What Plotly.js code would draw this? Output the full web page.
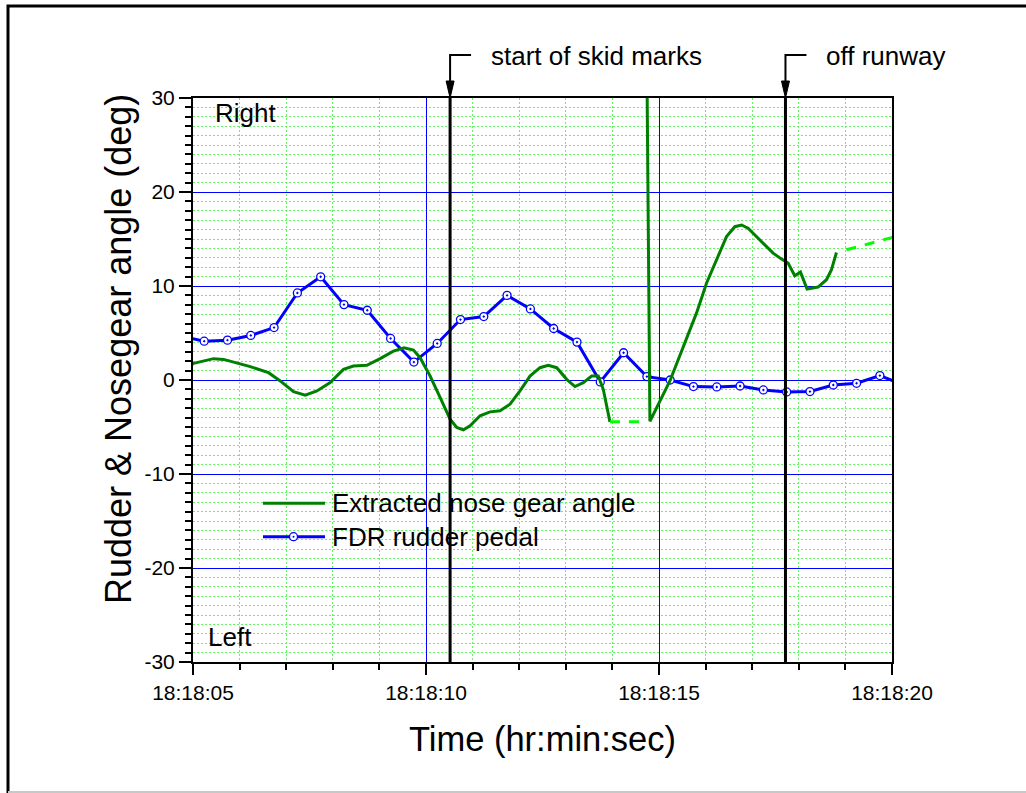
<!DOCTYPE html>
<html>
<head>
<meta charset="utf-8">
<script src="https://cdn.plot.ly/plotly-3.0.1.min.js"></script>
<style>html,body{margin:0;padding:0;background:#fff;}#chart{width:1026px;height:793px;}</style>
</head>
<body>
<div id="chart"></div>
<script>
// Time in seconds after 18:18:00
const xTickVals = [5, 10, 15, 20];
const xTickLabels = ['18:18:05', '18:18:10', '18:18:15', '18:18:20'];
const yTickVals = [-30, -20, -10, 0, 10, 20, 30];
const yTickLabels = ['-30', '-20', '-10', '0', '10', '20', '30'];

// FDR rudder pedal (deg)
const fdrTime = [4.74, 5.24, 5.74, 6.24, 6.74, 7.24, 7.74, 8.24, 8.74, 9.24, 9.74, 10.24, 10.74, 11.24, 11.74, 12.24,
  12.74, 13.24, 13.74, 14.24, 14.74, 15.24, 15.74, 16.24, 16.74, 17.24, 17.74, 18.24, 18.74, 19.24, 19.74, 20.24];
const fdrRudder = [4.67, 4.13, 4.24, 4.74, 5.58, 9.26, 10.98, 8.02, 7.42, 4.42, 1.91, 3.89, 6.43, 6.75, 9.0, 7.56,
  5.48, 4.03, -0.21, 2.9, 0.36, 0.0, -0.7, -0.74, -0.64, -1.06, -1.27, -1.23, -0.53, -0.35, 0.47, -0.53];

// Extracted nose gear angle (deg), solid portions
const noseTime = [4.95, 5.013, 5.442, 5.656, 6.229, 6.621, 6.872, 7.157, 7.408, 7.659, 7.944, 8.229, 8.443, 8.731,
  9.016, 9.301, 9.530, 9.730, 9.873, 10.088, 10.302, 10.517, 10.660, 10.802, 10.946, 11.160, 11.374, 11.589, 11.803,
  12.017, 12.232, 12.446, 12.624, 12.805, 13.019, 13.197, 13.375, 13.555, 13.697, 13.804, 13.947, null,
  14.721, 14.805, 15.234, 15.519, 15.806, 16.021, 16.235, 16.449, 16.627, 16.771, 16.912, 17.093, 17.234, 17.449,
  17.629, 17.770, 17.914, 18.036, 18.178, 18.413, 18.594, 18.701, 18.808];
const noseAngle = [1.6, 1.77, 2.27, 2.19, 1.42, 0.78, -0.1, -1.23, -1.62, -1.16, -0.28, 1.13, 1.48, 1.56,
  2.27, 3.07, 3.43, 3.18, 2.37, 0.42, -1.85, -4.16, -5.04, -5.3, -4.87, -3.81, -3.39, -3.28, -2.57,
  -1.16, 0.42, 1.31, 1.56, 1.31, 0.07, -0.7, -0.28, 0.42, 0.42, -0.99, -4.45, null,
  45, -4.4, -0.1, 3.6, 7.14, 10.32, 12.79, 15.25, 16.31, 16.49, 16.14, 15.25, 14.62, 13.5,
  12.86, 12.44, 11.09, 11.48, 9.68, 9.89, 10.67, 11.73, 13.56];

// Extracted nose gear angle, estimated (dashed) portions
const noseEstTime = [13.947, 14.59, null, 19.022, 20.1];
const noseEstAngle = [-4.45, -4.45, null, 13.85, 15.3];

// Events
const eventTimes = [10.517, 17.714];
const eventLabels = ['start of skid marks', 'off runway'];

const seriesNames = ['Extracted nose gear angle', 'FDR rudder pedal'];
const sideLabels = ['Right', 'Left'];
const yTitle = 'Rudder &amp; Nosegear angle (deg)';
const xTitle = 'Time (hr:min:sec)';

const FONT = 'Liberation Sans, Arial, Helvetica, sans-serif';
const GREEN = '#008000', LIME = '#00ff00', BLUE = '#0000ff';

const traces = [
  {
    x: fdrTime, y: fdrRudder, type: 'scatter', mode: 'lines+markers', name: seriesNames[1],
    line: {color: BLUE, width: 3},
    marker: {symbol: 'circle-dot', size: 8, color: '#ffffff', line: {color: BLUE, width: 1.3}},
    showlegend: false, cliponaxis: true
  },
  {
    x: noseTime, y: noseAngle, type: 'scatter', mode: 'lines', name: seriesNames[0],
    line: {color: GREEN, width: 3}, connectgaps: false, showlegend: false
  },
  {
    x: noseEstTime, y: noseEstAngle, type: 'scatter', mode: 'lines', name: seriesNames[0] + ' (est.)',
    line: {color: LIME, width: 3, dash: '10px,9px'}, connectgaps: false, showlegend: false
  }
];

// paper helpers (plot area: x 193..892, y 98..662)
const PX = px => (px - 193) / 699;
const PY = py => (662 - py) / 564;
const S_PER_PX = 15 / 699.6;

const shapes = [
  // outer frame
  {type: 'path', xref: 'paper', yref: 'paper',
   path: `M ${PX(8)},${PY(800)} L ${PX(8)},${PY(6)} L ${PX(1040)},${PY(6)}`,
   line: {color: '#000', width: 3}},
  {type: 'line', xref: 'paper', yref: 'paper', x0: PX(8), x1: PX(1040), y0: PY(792), y1: PY(792),
   line: {color: '#c8c8c8', width: 2}},
  // legend samples
  {type: 'line', xref: 'paper', yref: 'paper', x0: PX(263), x1: PX(325), y0: PY(503.3), y1: PY(503.3),
   line: {color: GREEN, width: 3}},
  {type: 'line', xref: 'paper', yref: 'paper', x0: PX(263), x1: PX(325), y0: PY(536.7), y1: PY(536.7),
   line: {color: BLUE, width: 3}},
  {type: 'circle', xref: 'paper', yref: 'paper', x0: PX(289.5), x1: PX(297.5), y0: PY(532.7), y1: PY(540.7),
   fillcolor: '#fff', line: {color: BLUE, width: 1.3}},
  {type: 'circle', xref: 'paper', yref: 'paper', x0: PX(292.5), x1: PX(294.5), y0: PY(535.7), y1: PY(537.7),
   fillcolor: BLUE, line: {color: BLUE, width: 0}}
];

const annotations = [];
eventTimes.forEach((t, i) => {
  shapes.push({type: 'line', xref: 'x', yref: 'paper', x0: t, x1: t, y0: 0, y1: 1,
    line: {color: '#000', width: 3}, layer: 'above'});
  shapes.push({type: 'path', xref: 'x', yref: 'paper',
    path: `M ${t + 21 * S_PER_PX},${PY(55)} L ${t},${PY(55)} L ${t},${PY(84)}`,
    line: {color: '#000', width: 2}});
  shapes.push({type: 'path', xref: 'x', yref: 'paper',
    path: `M ${t - 4 * S_PER_PX},${PY(81)} L ${t + 4 * S_PER_PX},${PY(81)} L ${t},${PY(98)} Z`,
    fillcolor: '#000', line: {color: '#000', width: 1}});
  annotations.push({xref: 'x', yref: 'paper', x: t + 39 * S_PER_PX, y: PY(56), xanchor: 'left', yanchor: 'middle',
    text: eventLabels[i], showarrow: false, font: {family: FONT, size: 26, color: '#000'}});
});

annotations.push(
  {xref: 'paper', yref: 'paper', x: PX(213), y: PY(113), xanchor: 'left', yanchor: 'middle', text: sideLabels[0],
   showarrow: false, font: {family: FONT, size: 26, color: '#000'}},
  {xref: 'paper', yref: 'paper', x: PX(206), y: PY(637), xanchor: 'left', yanchor: 'middle', text: sideLabels[1],
   showarrow: false, font: {family: FONT, size: 26, color: '#000'}},
  {xref: 'paper', yref: 'paper', x: PX(330), y: PY(503.3), xanchor: 'left', yanchor: 'middle', text: seriesNames[0],
   showarrow: false, font: {family: FONT, size: 26, color: '#000'}},
  {xref: 'paper', yref: 'paper', x: PX(330), y: PY(536.7), xanchor: 'left', yanchor: 'middle', text: seriesNames[1],
   showarrow: false, font: {family: FONT, size: 26, color: '#000'}},
  // y axis title (offset upward like the original)
  {xref: 'paper', yref: 'paper', x: PX(118), y: PY(349), xanchor: 'center', yanchor: 'middle', textangle: -90,
   text: yTitle, showarrow: false, font: {family: FONT, size: 36, color: '#000'}}
);

const layout = {
  width: 1026, height: 793,
  margin: {l: 193, r: 134, t: 98, b: 131, pad: 0},
  paper_bgcolor: '#fff', plot_bgcolor: '#fff',
  font: {family: FONT, size: 21, color: '#000'},
  showlegend: false,
  xaxis: {
    range: [5, 20], tickmode: 'array', tickvals: xTickVals, ticktext: xTickLabels,
    ticks: 'outside', ticklen: 11, tickwidth: 2, tickcolor: '#000',
    showline: true, linecolor: '#000', linewidth: 2, mirror: true,
    showgrid: true, gridcolor: BLUE, gridwidth: 1, zeroline: false,
    tickfont: {family: FONT, size: 21, color: '#000'},
    minor: {tickmode: 'linear', tick0: 0, dtick: 1, ticks: 'outside', ticklen: 6, tickwidth: 2, tickcolor: '#000',
            showgrid: true, gridcolor: '#66f266', gridwidth: 1, griddash: '2px,2px'},
    title: {text: xTitle, font: {family: FONT, size: 34.5, color: '#000'}, standoff: 24},
    fixedrange: true
  },
  yaxis: {
    range: [-30, 30], tickmode: 'array', tickvals: yTickVals, ticktext: yTickLabels,
    ticks: 'outside', ticklen: 12, tickwidth: 2, tickcolor: '#000',
    showline: true, linecolor: '#000', linewidth: 2, mirror: true,
    showgrid: true, gridcolor: BLUE, gridwidth: 1, zeroline: false,
    tickfont: {family: FONT, size: 21, color: '#000'},
    minor: {tickmode: 'linear', tick0: 0, dtick: 1, ticks: 'outside', ticklen: 6, tickwidth: 2, tickcolor: '#000',
            showgrid: true, gridcolor: '#66f266', gridwidth: 1, griddash: '2px,2px'},
    title: {text: ''},
    fixedrange: true
  },
  shapes: shapes,
  annotations: annotations
};

Plotly.newPlot('chart', traces, layout, {staticPlot: true, displayModeBar: false});
</script>
</body>
</html>
